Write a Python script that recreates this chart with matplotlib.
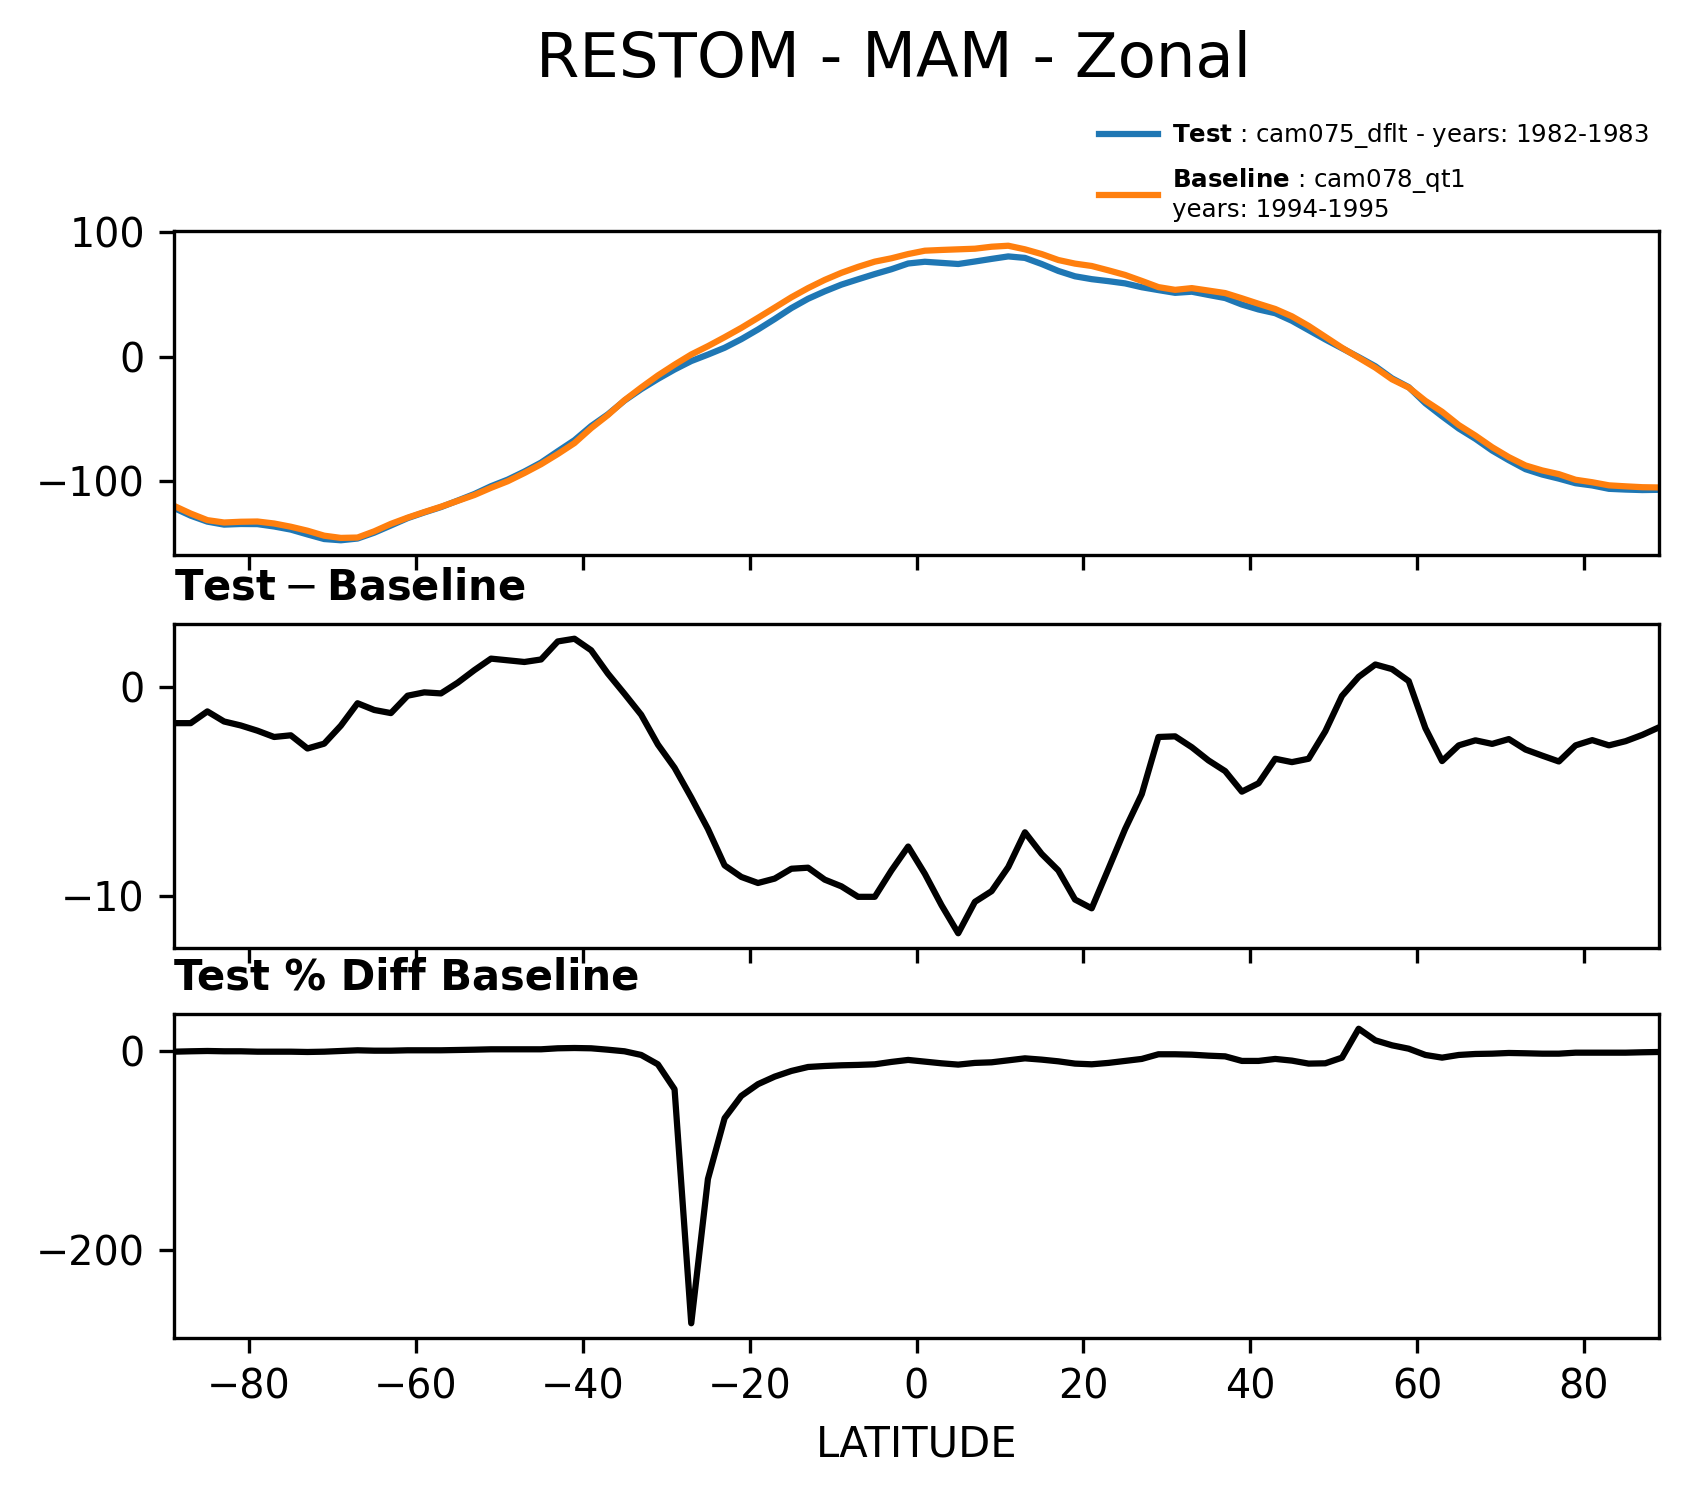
import numpy as np
import matplotlib
matplotlib.use("Agg")
import matplotlib.pyplot as plt

# === DATA (zonal means) ===
lat = np.arange(-89, 90, 2)

restom_base = [
    -120.0, -126.2, -131.5, -133.4, -132.8, -132.6, -134.2, -136.8, -140.0, -144.0,
    -145.8, -145.5, -140.5, -134.5, -129.5, -125.0, -120.7, -116.0, -111.3, -105.5,
    -100.2, -93.6, -86.5, -78.3, -69.5, -57.5, -47.0, -35.0, -24.8, -15.1,
    -6.4, 1.8, 8.5, 15.7, 23.2, 31.3, 39.5, 47.8, 55.2, 61.8,
    67.5, 72.3, 76.5, 79.2, 82.6, 85.3, 85.9, 86.4, 86.9, 88.5,
    89.3, 86.4, 82.6, 77.8, 74.9, 73.0, 69.5, 65.8, 61.0, 56.0,
    53.8, 55.2, 53.2, 51.2, 47.0, 42.6, 38.4, 32.5, 24.8, 16.0,
    7.2, -0.8, -8.8, -18.2, -24.8, -35.5, -44.3, -55.0, -63.5, -72.8,
    -80.8, -87.5, -91.5, -94.5, -99.0, -101.0, -103.5, -104.3, -105.0, -105.2,
]

restom_test = [
    -121.7, -127.9, -132.7, -135.1, -134.6, -134.7, -136.6, -139.1, -143.0, -146.7,
    -147.7, -146.3, -141.6, -135.8, -129.9, -125.3, -121.0, -115.8, -110.5, -104.2,
    -98.9, -92.4, -85.2, -76.1, -67.2, -55.8, -46.4, -35.3, -26.1, -17.9,
    -10.3, -3.5, 1.7, 7.2, 14.1, 21.9, 30.3, 39.1, 46.6, 52.6,
    58.0, 62.3, 66.5, 70.4, 75.0, 76.4, 75.5, 74.6, 76.6, 78.7,
    80.7, 79.5, 74.6, 69.0, 64.7, 62.4, 60.8, 59.0, 55.9, 53.6,
    51.4, 52.3, 49.7, 47.2, 42.0, 38.0, 35.0, 28.9, 21.4, 13.9,
    6.8, -0.3, -7.7, -17.4, -24.5, -37.5, -47.9, -57.8, -66.1, -75.5,
    -83.3, -90.5, -94.8, -98.1, -101.8, -103.6, -106.3, -106.9, -107.3, -107.1,
]

restom_diff = [
    -1.74, -1.74, -1.18, -1.66, -1.85, -2.10, -2.40, -2.32, -2.95, -2.72,
    -1.86, -0.79, -1.11, -1.26, -0.43, -0.27, -0.32, 0.19, 0.79, 1.34,
    1.26, 1.18, 1.30, 2.16, 2.29, 1.74, 0.63, -0.34, -1.34, -2.76,
    -3.87, -5.29, -6.79, -8.53, -9.08, -9.37, -9.16, -8.69, -8.64, -9.21,
    -9.53, -10.03, -10.03, -8.77, -7.63, -8.93, -10.43, -11.77, -10.27, -9.76,
    -8.61, -6.95, -7.98, -8.77, -10.16, -10.58, -8.70, -6.80, -5.13, -2.40,
    -2.37, -2.89, -3.52, -4.03, -5.01, -4.61, -3.44, -3.60, -3.44, -2.13,
    -0.44, 0.47, 1.06, 0.84, 0.27, -1.98, -3.55, -2.80, -2.56, -2.73,
    -2.50, -3.00, -3.29, -3.57, -2.80, -2.55, -2.80, -2.60, -2.30, -1.94,
]

restom_pct = [
    -0.7, -0.3, 0.0, -0.3, -0.3, -0.7, -0.7, -0.7, -1.0, -0.7,
    0.0, 0.7, 0.3, 0.3, 0.7, 0.7, 0.7, 1.0, 1.3, 1.7,
    1.7, 1.7, 1.7, 2.7, 3.0, 2.7, 1.3, -0.3, -4.0, -13.4,
    -38.5, -274.0, -128.8, -67.6, -45.2, -33.4, -25.8, -20.1, -16.1, -15.1,
    -14.4, -14.0, -13.4, -11.0, -9.0, -10.7, -12.4, -13.7, -12.0, -11.4,
    -9.4, -7.4, -8.7, -10.4, -12.7, -13.4, -12.0, -10.0, -8.0, -3.3,
    -3.3, -3.7, -4.7, -5.4, -10.0, -10.0, -8.0, -9.7, -12.7, -12.4,
    -6.7, 22.4, 10.7, 5.7, 2.3, -4.0, -6.7, -4.0, -3.0, -2.7,
    -2.0, -2.3, -2.7, -2.7, -1.7, -1.7, -1.7, -1.7, -1.3, -1.0,
]

test_label = r"$\bf{Test}$ : cam075_dflt - years: 1982-1983"
base_label = r"$\bf{Baseline}$ : cam078_qt1" + "\nyears: 1994-1995"

x_ticks = [-80, -60, -40, -20, 0, 20, 40, 60, 80]

# === FIGURE ===
W, H = 1691, 1496
fig = plt.figure(figsize=(W / 300, H / 300), dpi=300)

left = 174 / W
width = (1659 - 174) / W
ax_h = 324 / H
ax1 = fig.add_axes([left, 1 - 555 / H, width, ax_h])
ax2 = fig.add_axes([left, 1 - 948 / H, width, ax_h], sharex=ax1)
ax3 = fig.add_axes([left, 1 - 1338 / H, width, ax_h], sharex=ax1)

ax1.plot(lat, restom_test, color="#1f77b4", lw=1.5, label=test_label)
ax1.plot(lat, restom_base, color="#ff7f0e", lw=1.5, label=base_label)
ax1.set_yticks([-100, 0, 100])
ax1.legend(loc="lower right", bbox_to_anchor=(1.0, 0.996), frameon=False,
           fontsize=5.9, borderaxespad=0.0, labelspacing=0.62,
           handlelength=2.4, handletextpad=0.6)

ax2.plot(lat, restom_diff, color="black", lw=1.5)
ax2.set_yticks([-10, 0])
ax2.set_title(r"$\mathbf{Test} - \mathbf{Baseline}$", loc="left", fontsize=10)

ax3.plot(lat, restom_pct, color="black", lw=1.5)
ax3.set_yticks([-200, 0])
ax3.set_title("Test % Diff Baseline", loc="left", fontsize=10, fontweight="bold")

for ax in (ax1, ax2, ax3):
    ax.tick_params(labelsize=9.5)
ax1.tick_params(labelbottom=False)
ax2.tick_params(labelbottom=False)

ax3.set_xticks(x_ticks)
ax3.set_xlim(-89, 89)
ax3.set_xlabel("LATITUDE", fontsize=10)

fig.suptitle("RESTOM - MAM - Zonal", x=894 / W, y=0.98, fontsize=15)

fig.savefig("out.png", dpi=300)
